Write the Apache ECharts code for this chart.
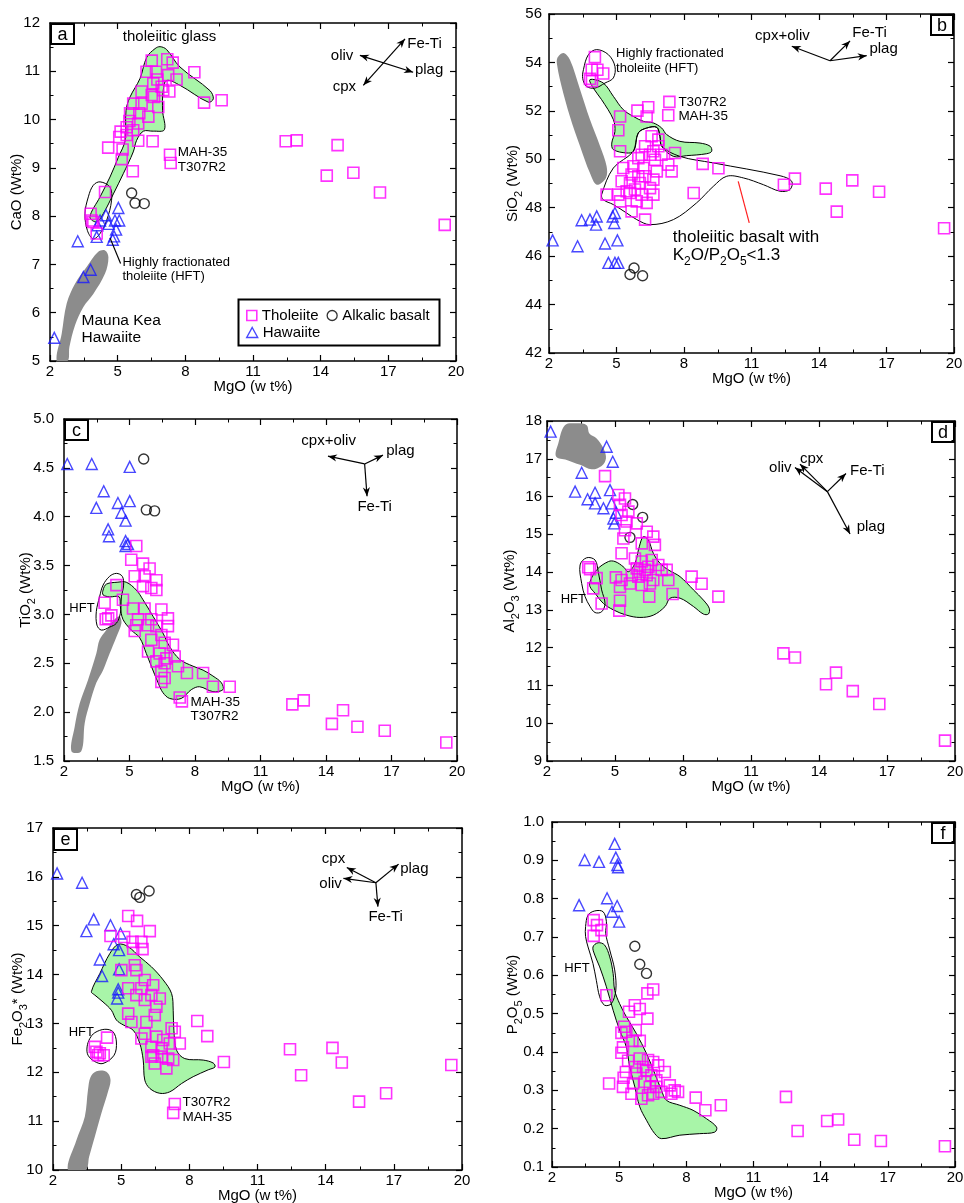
<!DOCTYPE html>
<html><head><meta charset="utf-8">
<script src="https://cdn.jsdelivr.net/npm/echarts@6/dist/echarts.min.js"></script>
<style>html,body{margin:0;padding:0;background:#fff}#c{width:964px;height:1203px}</style>
</head><body><div id="c"></div>
<script>
const FONT = '"Liberation Sans", Arial, Helvetica, sans-serif';
const MAG = '#ff00ff', BLUE = '#1a1aff', GREEN = '#a8f5a8', GRAY = '#8c8c8c';

// ---------- tick labels ----------
const mgoTicks = [2,5,8,11,14,17,20];
const aYTicks = [5,6,7,8,9,10,11,12];
const bYTicks = [42,44,46,48,50,52,54,56];
const cYTicks = [1.5,2.0,2.5,3.0,3.5,4.0,4.5,5.0];
const dYTicks = [9,10,11,12,13,14,15,16,17,18];
const eYTicks = [10,11,12,13,14,15,16,17];
const fYTicks = [0.1,0.2,0.3,0.4,0.5,0.6,0.7,0.8,0.9,1.0];

// ---------- panel a : CaO ----------
const aThol = [[19.5,7.82],[16.63,8.49],[15.45,8.9],[14.27,8.84],[14.75,9.47],[12.45,9.55],[12.94,9.57],[9.61,10.4],[8.83,10.35],[8.4,10.98],[7.32,9.27],[7.35,9.1],
[6.51,11.22],[7.2,11.25],[7.44,11.18],[6.28,10.99],[6.7,10.99],[7.24,10.92],[7.61,10.83],[6.76,10.83],[6.58,10.75],[6.95,10.68],[7.29,10.58],[6.06,10.58],[6.51,10.51],[7.02,10.61],[5.69,10.33],[6.06,10.33],[6.61,10.47],[6.8,10.26],[5.55,10.13],[5.96,10.13],[6.36,10.06],[5.91,9.92],[5.4,9.84],[5.13,9.75],[5.4,9.68],[5.07,9.64],[5.91,9.56],[6.55,9.55],[4.58,9.42],[5.22,9.38],[5.18,9.18],[5.67,8.93],[4.44,8.5],[5.52,9.97],[5.69,9.78],
[3.8,8.05],[3.85,7.91],[4.07,7.64],[3.92,7.88]];
const aHaw = [[2.19,5.48],[3.23,7.48],[3.48,6.74],[3.8,6.89],[4.07,7.57],[4.1,7.81],[4.48,8.02],[4.6,7.84],[4.78,7.51],[4.84,7.58],[4.93,7.72],[4.88,7.91],[5.07,7.91],[5.03,8.17],[4.22,7.91]];
const aAlk = [[5.62,8.48],[5.77,8.27],[6.18,8.26]];
const aGreen = [[3.77,7.98],[4.22,8.4],[4.66,8.81],[5.03,9.22],[5.33,9.57],[5.37,10.19],[5.55,10.47],[5.99,10.85],[6.29,11.29],[6.66,11.47],[6.88,11.51],[7.17,11.45],[7.76,11.09],[9.09,10.6],[9.24,10.43],[9.02,10.36],[7.76,10.71],[7.17,10.81],[7.02,10.6],[6.99,10.19],[7.07,9.79],[6.58,9.76],[6.14,9.76],[5.84,9.57],[5.69,9.33],[5.25,8.88],[4.81,8.46],[4.36,8.05],[4.07,7.88]];
const aHft = [[4.22,8.71],[4.66,8.6],[4.73,8.33],[4.51,7.91],[4.22,7.64],[3.92,7.53],[3.66,7.7],[3.55,8.05],[3.7,8.4],[3.92,8.64]];
const aGray = [[2.3,5.0],[2.52,5.57],[2.74,6.19],[3.11,6.6],[3.63,6.95],[4.14,7.26],[4.44,7.29],[4.59,7.15],[4.44,6.81],[3.92,6.39],[3.48,6.12],[3.11,5.74],[2.86,5.29],[2.78,5.0]];

// ---------- panel b : SiO2 ----------
const bThol = [[19.56,47.15],[16.67,48.66],[15.48,49.13],[14.79,47.84],[14.3,48.79],[12.93,49.2],[12.44,48.95],[9.53,49.63],[8.83,49.81],[8.43,48.61],[7.35,52.37],[7.3,51.82],
[4.04,54.22],[3.9,53.7],[4.15,53.7],[4.41,53.54],[3.82,53.32],[3.91,53.22],
[5.16,51.77],[5.08,51.2],[5.93,52.01],[6.41,52.15],[6.34,51.77],[5.16,50.33],[6.56,50.95],[6.86,50.54],[7.6,50.26],[6.49,50.19],[7.0,50.19],[6.12,50.19],[6.71,49.98],[7.3,49.78],[6.19,49.64],[5.75,49.71],[5.3,49.64],[5.67,49.37],[6.27,49.3],[6.79,49.5],[7.45,49.5],[5.23,49.09],[5.6,49.02],[6.04,49.02],[6.64,49.16],[4.56,48.54],[5.08,48.54],[5.6,48.61],[6.12,48.54],[6.64,48.54],[5.16,48.26],[5.9,48.26],[6.34,48.2],[5.67,47.85],[6.27,47.51],[5.45,48.68],[5.97,50.05],[6.27,50.54],[6.64,50.33],[6.86,50.81],[5.82,48.75],[6.49,48.81],[5.97,49.3]];
const bHaw = [[2.16,46.65],[3.27,46.41],[3.45,47.48],[3.82,47.51],[4.12,47.64],[4.09,47.3],[4.49,46.52],[4.64,45.72],[4.83,47.64],[4.93,47.78],[4.9,47.37],[5.04,46.65],[4.93,45.72],[5.08,45.72]];
const bAlk = [[5.78,45.51],[5.6,45.24],[6.16,45.19]];
const bGreen = [[3.82,53.29],[4.41,53.15],[4.86,52.6],[5.3,52.05],[5.75,51.77],[6.19,51.57],[6.64,51.5],[7.01,51.29],[7.23,51.02],[7.82,50.74],[8.71,50.67],[9.16,50.54],[9.23,50.33],[9.01,50.23],[8.12,50.15],[7.53,50.12],[7.01,50.54],[6.93,50.95],[6.79,51.32],[6.34,51.29],[5.97,51.09],[5.75,50.33],[5.45,50.26],[4.86,50.4],[4.79,50.67],[4.93,51.15],[4.86,51.64],[4.34,52.46],[3.97,52.94]];
const bBasalt = [[4.34,48.54],[4.86,49.64],[5.75,50.33],[5.97,51.09],[6.34,51.29],[6.79,51.32],[6.93,50.95],[7.01,50.54],[7.82,50.12],[9.3,49.85],[12.27,49.32],[12.79,49.09],[12.71,48.75],[12.27,48.68],[11.53,48.95],[10.64,49.23],[9.9,49.3],[9.3,48.88],[8.56,48.2],[7.53,47.51],[6.49,47.3],[5.9,47.51],[5.45,47.78],[4.86,48.13],[4.41,48.33]];
const bHft = [[3.53,53.7],[3.75,54.32],[4.12,54.53],[4.64,54.32],[4.93,53.84],[4.86,53.36],[4.49,53.15],[4.04,52.94],[3.67,53.01],[3.5,53.33]];
const bGray = [[2.37,54.18],[2.64,54.39],[2.93,54.11],[3.38,52.88],[3.82,51.64],[4.27,50.54],[4.56,49.71],[4.53,49.23],[4.12,48.95],[3.82,49.43],[3.38,50.54],[2.93,51.77],[2.56,53.01],[2.37,53.84]];

// ---------- panel c : TiO2 ----------
const cThol = [[19.51,1.69],[16.69,1.81],[15.44,1.85],[14.78,2.02],[14.27,1.88],[12.98,2.12],[12.46,2.08],[9.59,2.26],[8.82,2.26],[8.37,2.4],[7.3,2.15],[7.4,2.11],[7.63,2.4],[5.31,3.7],[5.08,3.56],
[3.86,3.12],[4.02,2.96],[4.17,2.99],[3.91,2.95],[4.4,3.3],
[5.62,3.52],[5.92,3.47],[5.24,3.39],[5.69,3.39],[6.23,3.35],[5.62,3.29],[6.0,3.27],[6.23,3.25],[4.7,3.15],[5.16,3.06],[5.69,3.06],[6.46,3.05],[6.76,2.96],[5.31,2.89],[5.85,2.89],[6.23,2.88],[5.24,2.83],[6.46,2.79],[6.0,2.74],[6.61,2.71],[6.99,2.69],[5.85,2.62],[6.38,2.6],[6.69,2.55],[7.07,2.57],[6.23,2.52],[6.61,2.5],[7.22,2.47],[6.46,2.42],[6.61,2.35],[6.46,2.31],[5.39,2.95],[6.0,2.95],[6.76,2.88]];
const cHaw = [[2.15,4.54],[3.27,4.54],[5.01,4.51],[3.82,4.26],[3.48,4.09],[4.47,4.14],[5.01,4.16],[4.63,4.04],[4.82,3.96],[4.02,3.87],[4.06,3.8],[4.82,3.75],[4.82,3.7],[4.93,3.72]];
const cAlk = [[5.65,4.59],[5.77,4.07],[6.15,4.06]];
const cGreen = [[3.79,3.25],[3.94,3.31],[4.47,3.33],[4.85,3.33],[5.31,3.25],[5.62,3.15],[6.08,2.98],[6.53,2.81],[6.84,2.67],[7.3,2.54],[7.91,2.47],[8.37,2.43],[8.82,2.37],[9.21,2.3],[9.28,2.23],[8.82,2.21],[8.21,2.26],[7.83,2.23],[7.37,2.14],[6.84,2.14],[6.53,2.2],[6.31,2.3],[6.0,2.47],[5.77,2.6],[5.47,2.76],[5.08,2.84],[4.7,2.95],[4.58,3.08],[4.52,3.18],[4.09,3.18],[3.79,3.2]];
const cHft = [[3.63,3.18],[3.79,3.3],[4.09,3.39],[4.4,3.42],[4.67,3.39],[4.73,3.3],[4.63,3.18],[4.58,3.01],[4.4,2.91],[4.09,2.87],[3.71,2.84],[3.51,2.89],[3.48,3.03]];
const cGray = [[2.34,1.6],[2.49,1.85],[2.72,2.09],[3.1,2.33],[3.48,2.6],[3.63,2.74],[3.94,2.84],[4.32,2.95],[4.55,2.98],[4.63,2.91],[4.4,2.77],[4.09,2.6],[3.79,2.43],[3.48,2.3],[3.18,2.09],[2.95,1.89],[2.79,1.6]];

// ---------- panel d : Al2O3 ----------
const dThol = [[19.56,9.54],[16.66,10.51],[15.49,10.85],[14.75,11.34],[14.31,11.03],[12.94,11.74],[12.43,11.85],[9.56,13.35],[8.82,13.69],[8.38,13.88],[7.54,13.42],[7.35,13.79],[7.28,14.06],[6.51,13.35],
[3.82,14.13],[3.9,14.08],[4.19,13.84],[4.04,13.57],[4.41,13.17],[4.56,16.54],
[5.19,12.98],[5.22,13.24],[5.29,13.79],[5.04,13.86],[5.29,14.5],[5.66,13.7],
[5.15,16.04],[5.44,15.95],[5.22,15.78],[5.59,15.6],[5.29,15.51],[5.51,15.34],[5.96,15.29],[5.44,15.11],[6.4,15.07],[6.69,14.94],[5.37,14.89],[6.18,14.76],[6.76,14.72],[5.88,14.36],[6.18,14.28],[6.62,14.32],[7.06,14.06],[5.96,14.1],[6.32,14.06],[5.74,13.92],[6.03,13.88],[6.4,13.92],[6.69,13.79],[6.18,13.66],[5.22,13.61],[6.54,13.7],[6.1,14.01],[6.47,14.14],[6.91,14.19]];
const dHaw = [[2.16,17.72],[4.63,17.32],[4.9,16.92],[3.53,16.63],[3.24,16.13],[4.12,16.1],[3.79,15.93],[4.12,15.82],[4.49,15.69],[4.78,16.17],[4.85,15.82],[5.04,15.57],[4.93,15.42],[4.97,15.29]];
const dAlk = [[5.78,15.79],[6.22,15.45],[5.66,14.92]];
const dGreen = [[3.9,13.75],[4.19,14.06],[4.71,14.28],[5.0,14.28],[5.37,14.14],[5.59,14.01],[5.88,14.23],[6.07,14.67],[6.25,14.94],[6.47,14.85],[6.69,14.5],[6.99,14.23],[7.35,14.06],[7.87,13.88],[8.46,13.53],[8.9,13.26],[9.16,13.04],[9.12,12.89],[8.9,12.89],[8.46,13.09],[7.87,13.31],[7.43,13.31],[7.21,13.09],[6.69,12.86],[6.1,12.8],[5.51,12.86],[4.93,13.0],[4.49,13.17],[4.12,13.44],[3.9,13.61]];
const dHft = [[3.46,14.19],[3.75,14.38],[4.12,14.32],[4.26,14.01],[4.41,13.53],[4.56,13.17],[4.41,12.95],[4.12,12.93],[3.9,13.09],[3.68,13.35],[3.53,13.7]];
const dGray = [[2.4,17.06],[2.5,17.41],[2.79,17.89],[3.31,17.94],[3.75,17.89],[3.87,17.67],[4.19,17.54],[4.49,17.28],[4.6,17.01],[4.41,16.81],[3.97,16.72],[3.46,16.84],[2.87,16.97]];

// ---------- panel e : Fe2O3* ----------
const eThol = [[19.53,12.15],[16.66,11.57],[15.47,11.4],[14.71,12.2],[14.3,12.5],[12.92,11.94],[12.43,12.47],[9.52,12.21],[8.79,12.74],[8.35,13.05],[7.36,11.35],[7.29,11.17],
[4.38,12.71],[3.84,12.52],[3.91,12.42],[4.06,12.39],[4.23,12.35],[3.98,12.35],
[5.31,15.2],[5.7,15.1],[6.26,14.89],[4.53,14.79],[5.13,14.77],[5.5,14.67],[5.89,14.67],[5.53,14.53],[5.94,14.52],
[5.6,14.19],[5.67,14.09],[5.01,14.09],[6.04,13.89],[6.41,13.78],[5.31,13.72],[5.89,13.72],[5.67,13.58],[6.33,13.58],[6.7,13.51],[6.04,13.48],[6.55,13.34],[5.31,13.2],[6.48,13.17],[5.45,13.03],[6.11,13.03],[7.22,12.9],[7.36,12.83],[6.04,12.79],[6.55,12.73],[6.85,12.66],[5.89,12.69],[7.14,12.59],[7.58,12.59],[6.33,12.52],[6.78,12.49],[6.41,12.35],[6.78,12.32],[7.07,12.28],[7.29,12.25],[6.48,12.18],[6.99,12.08],[6.33,12.32]];
const eHaw = [[2.18,16.07],[3.28,15.88],[3.79,15.13],[3.47,14.89],[4.53,15.01],[4.97,14.84],[4.67,14.62],[4.91,14.5],[4.06,14.31],[4.16,13.97],[4.91,14.11],[4.87,13.7],[4.87,13.63],[4.82,13.51]];
const eAlk = [[5.67,15.64],[5.82,15.58],[6.23,15.71]];
const eGreen = [[3.69,13.65],[4.06,14.02],[4.5,14.43],[4.87,14.62],[5.31,14.57],[5.82,14.36],[6.33,14.16],[6.85,13.89],[7.22,13.61],[7.29,13.27],[7.32,12.86],[7.44,12.45],[7.8,12.28],[8.61,12.25],[9.05,12.19],[9.13,12.11],[8.83,12.05],[8.17,11.91],[7.66,11.77],[7.14,11.6],[6.7,11.57],[6.26,11.67],[6.04,11.84],[5.97,12.25],[5.82,12.59],[5.53,12.86],[5.09,12.97],[4.79,13.07],[4.57,13.27],[4.2,13.44],[3.84,13.58]];
const eHft = [[3.5,12.52],[3.62,12.69],[3.84,12.81],[4.28,12.88],[4.64,12.83],[4.79,12.62],[4.69,12.35],[4.2,12.18],[3.84,12.22],[3.54,12.35]];
const eGray = [[2.66,10.0],[3.03,10.61],[3.4,11.09],[3.54,11.64],[3.65,11.9],[3.91,12.02],[4.35,12.01],[4.53,11.85],[4.42,11.6],[4.13,11.16],[3.84,10.68],[3.59,10.27],[3.44,10.0]];

// ---------- panel f : P2O5 ----------
const fThol = [[19.55,0.154],[16.69,0.168],[15.5,0.171],[14.78,0.224],[14.29,0.22],[12.97,0.194],[12.45,0.283],[9.54,0.261],[8.85,0.248],[8.42,0.281],[4.55,0.318],
[3.86,0.744],[4.01,0.731],[4.21,0.718],[3.86,0.703],[4.43,0.548],
[6.52,0.563],[6.26,0.553],[5.7,0.522],[5.92,0.512],[5.44,0.505],[6.26,0.487],[5.74,0.457],[5.22,0.466],[5.1,0.45],[5.32,0.453],[5.92,0.429],[5.59,0.429],[5.17,0.412],[5.1,0.398],[5.4,0.377],
[5.92,0.383],[6.29,0.379],[5.7,0.361],[6.07,0.361],[6.52,0.374],[6.74,0.365],[7.04,0.348],[5.77,0.344],[6.22,0.352],[6.44,0.339],[6.66,0.326],[5.17,0.309],[5.62,0.318],[6.14,0.322],[6.37,0.309],[6.66,0.309],[7.26,0.313],[7.48,0.3],[6.89,0.296],[6.52,0.291],[5.55,0.291],[5.99,0.278],[6.29,0.287],[7.33,0.291],[7.63,0.296],[5.3,0.348],[5.2,0.333]];
const fHaw = [[3.21,0.783],[3.46,0.901],[4.1,0.896],[4.46,0.801],[4.68,0.766],[4.8,0.943],[4.85,0.907],[4.92,0.888],[4.95,0.882],[4.91,0.781],[5.0,0.74]];
const fAlk = [[5.7,0.676],[5.92,0.629],[6.22,0.605]];
const fGreen = [[3.83,0.674],[4.06,0.685],[4.35,0.679],[4.58,0.648],[4.73,0.605],[4.8,0.561],[5.02,0.526],[5.32,0.492],[5.77,0.448],[6.22,0.396],[6.59,0.344],[6.89,0.3],[7.11,0.274],[7.71,0.261],[8.3,0.248],[8.9,0.226],[9.35,0.204],[9.27,0.191],[8.6,0.187],[7.71,0.183],[6.89,0.174],[6.59,0.187],[6.22,0.222],[5.92,0.257],[5.7,0.309],[5.47,0.361],[5.32,0.413],[5.02,0.457],[4.73,0.509],[4.43,0.57],[4.13,0.622],[3.91,0.653]];
const fHft = [[3.5,0.727],[3.61,0.757],[3.91,0.768],[4.28,0.766],[4.43,0.74],[4.4,0.709],[4.58,0.666],[4.8,0.614],[4.85,0.561],[4.65,0.526],[4.35,0.522],[4.13,0.544],[3.98,0.587],[3.83,0.631],[3.61,0.674],[3.5,0.701]];

// ---------- vector diagrams [x1,y1,x2,y2,heads] ----------
const aArrows = [[15.74,11.33,18.1,10.98,2],[15.89,10.71,17.74,11.67,2],[4.66,7.55,5.13,7.02,0]];
const bArrows = [[14.49,54.07,12.79,54.67,1],[14.49,54.07,15.38,54.89,1],[14.49,54.07,16.12,54.28,1]];
const bRed = [[10.41,49.09,10.9,47.37,0]];
const cArrows = [[15.77,4.54,14.09,4.62,1],[15.77,4.54,16.61,4.63,1],[15.77,4.54,15.88,4.21,1]];
const dArrows = [[14.37,16.13,12.94,16.77,1],[14.37,16.13,13.16,16.86,1],[14.37,16.13,15.19,16.61,1],[14.37,16.13,15.37,15.01,1]];
const eArrows = [[16.21,15.88,14.93,16.19,1],[16.21,15.88,14.78,15.97,1],[16.21,15.88,17.21,16.26,1],[16.21,15.88,16.3,15.39,1]];

// ---------- annotations [x, y, text, align, size] ----------
const aLabels = [[7.3,11.71,'tholeiitic glass','center',15],[15.45,11.31,'oliv','right',15],[17.84,11.57,'Fe-Ti','left',15],[18.18,11.02,'plag','left',15],[15.57,10.67,'cpx','right',15],
[7.66,9.33,'MAH-35','left',13.5],[7.66,9.02,'T307R2','left',13.5],[5.21,7.05,'Highly fractionated','left',13],[5.21,6.75,'tholeiite (HFT)','left',13],
[3.4,5.83,'Mauna Kea','left',15.5],[3.4,5.48,'Hawaiite','left',15.5]];
const bLabels = [[4.98,54.39,'Highly fractionated','left',13],[4.98,53.77,'tholeiite (HFT)','left',13],[7.75,52.37,'T307R2','left',13.5],[7.75,51.77,'MAH-35','left',13.5],
[7.5,46.79,'tholeiitic basalt with','left',17],[7.5,46.02,'K{s|2}O/P{s|2}O{s|5}<1.3','left',17],
[11.16,55.11,'cpx+oliv','left',15],[15.48,55.24,'Fe-Ti','left',15],[16.24,54.57,'plag','left',15]];
const cLabels = [[3.4,3.06,'HFT','right',13],[7.79,2.1,'MAH-35','left',13.5],[7.79,1.96,'T307R2','left',13.5],[12.87,4.78,'cpx+oliv','left',15],[16.76,4.67,'plag','left',15],[15.44,4.1,'Fe-Ti','left',15]];
const dLabels = [[3.72,13.28,'HFT','right',13],[12.79,16.75,'oliv','right',15],[13.16,17.01,'cpx','left',15],[15.37,16.68,'Fe-Ti','left',15],[15.66,15.19,'plag','left',15]];
const eLabels = [[3.8,12.82,'HFT','right',13],[7.7,11.38,'T307R2','left',13.5],[7.7,11.08,'MAH-35','left',13.5],[14.86,16.37,'cpx','right',15],[14.71,15.85,'oliv','right',15],[17.28,16.16,'plag','left',15],[15.88,15.19,'Fe-Ti','left',15]];
const fLabels = [[3.68,0.618,'HFT','right',13]];

// ---------- layout ----------
const panels = [
 {id:'a', grid:[50,23,406,338], yTicks:aYTicks, yName:'CaO (Wt%)', yGap:22, yMargin:10, dec:0, thol:aThol, alk:aAlk, haw:aHaw, green:aGreen, outlines:[aHft], gray:aGray, arrows:aArrows, red:null, labels:aLabels, box:[51,24,23,20]},
 {id:'b', grid:[549,14,405,339], yTicks:bYTicks, yName:'SiO{s|2} (Wt%)', yGap:25, yMargin:7, dec:0, thol:bThol, alk:bAlk, haw:bHaw, green:bGreen, outlines:[bHft,bBasalt], gray:bGray, arrows:bArrows, red:bRed, labels:bLabels, box:[931,15,22,20]},
 {id:'c', grid:[64,419,393,342], yTicks:cYTicks, yName:'TiO{s|2} (Wt%)', yGap:27, yMargin:10, dec:1, thol:cThol, alk:cAlk, haw:cHaw, green:cGreen, outlines:[cHft], gray:cGray, arrows:cArrows, red:null, labels:cLabels, box:[65,420,23,20]},
 {id:'d', grid:[547,421,408,340], yTicks:dYTicks, yName:'Al{s|2}O{s|3} (Wt%)', yGap:26, yMargin:5, dec:0, thol:dThol, alk:dAlk, haw:dHaw, green:dGreen, outlines:[dHft], gray:dGray, arrows:dArrows, red:null, labels:dLabels, box:[932,422,22,20]},
 {id:'e', grid:[53,828,409,342], yTicks:eYTicks, yName:'Fe{s|2}O{s|3}* (Wt%)', yGap:24, yMargin:10, dec:0, thol:eThol, alk:eAlk, haw:eHaw, green:eGreen, outlines:[eHft], gray:eGray, arrows:eArrows, red:null, labels:eLabels, box:[54,829,23,21]},
 {id:'f', grid:[552,822,403,345], yTicks:fYTicks, yName:'P{s|2}O{s|5} (Wt%)', yGap:28, yMargin:8, dec:1, thol:fThol, alk:fAlk, haw:fHaw, green:fGreen, outlines:[fHft], gray:null, arrows:[], red:null, labels:fLabels, box:[932,823,22,20]}
];

const subRich = (size) => ({ s:{fontSize:Math.round(size*0.7), fontFamily:FONT, color:'#000', fill:'#000', verticalAlign:'bottom', lineHeight:Math.round(size*0.8)} });

function axisBase(ticks){
  const min = ticks[0], max = ticks[ticks.length-1];
  const interval = Math.round((ticks[1]-ticks[0])*1e6)/1e6;
  return {type:'value', min, max, interval, nameMoveOverlap:false,
    axisLine:{show:true, onZero:false, lineStyle:{color:'#000', width:1.5}},
    axisTick:{show:true, inside:true, length:6, lineStyle:{color:'#000', width:1.2}},
    minorTick:{show:true, splitNumber:2, length:3.5, lineStyle:{color:'#000', width:1}},
    splitLine:{show:false}, minorSplitLine:{show:false}};
}

const grids=[], xAxes=[], yAxes=[], series=[], graphics=[];
panels.forEach((p, i) => {
  grids.push({left:p.grid[0], top:p.grid[1], width:p.grid[2], height:p.grid[3], containLabel:false, outerBoundsMode:'none'});
  xAxes.push(Object.assign(axisBase(mgoTicks), {gridIndex:i, position:'bottom',
    axisLabel:{show:true, fontSize:15, fontFamily:FONT, color:'#000', margin:3},
    name:'MgO (w t%)', nameLocation:'middle', nameGap:18, nameTextStyle:{fontSize:15, fontFamily:FONT, color:'#000'}}));
  xAxes.push(Object.assign(axisBase(mgoTicks), {gridIndex:i, position:'top', axisLabel:{show:false}}));
  yAxes.push(Object.assign(axisBase(p.yTicks), {gridIndex:i, position:'left',
    axisLabel:{show:true, fontSize:15, fontFamily:FONT, color:'#000', margin:p.yMargin, formatter:v => Number(v).toFixed(p.dec)},
    name:p.yName, nameLocation:'middle', nameGap:p.yGap, nameRotate:90,
    nameTextStyle:{fontSize:15, fontFamily:FONT, color:'#000', lineHeight:22, rich:subRich(15)}}));
  yAxes.push(Object.assign(axisBase(p.yTicks), {gridIndex:i, position:'right', axisLabel:{show:false}}));
  const xi = 2*i, yi = 2*i;

  const poly = (pts, fill, stroke, z) => ({type:'custom', xAxisIndex:xi, yAxisIndex:yi, clip:true, silent:true, z, data:pts,
    renderItem(params, api){
      if (params.dataIndex !== 0) return null;
      return {type:'polygon', shape:{points:pts.map(q => api.coord(q)), smooth:0.35},
        style:{fill:fill || 'none', stroke:stroke || 'none', lineWidth:1}};
    }});
  if (p.gray) series.push(poly(p.gray, GRAY, null, 1));
  series.push(poly(p.green, GREEN, '#000', 2));
  p.outlines.forEach(o => series.push(poly(o, null, '#000', 3)));

  series.push({type:'scatter', name:'Hawaiite', xAxisIndex:xi, yAxisIndex:yi, data:p.haw, symbol:'triangle', symbolSize:11, silent:true, z:5,
    itemStyle:{color:'rgba(0,0,0,0)', borderColor:BLUE, borderWidth:1.4}});
  series.push({type:'scatter', name:'Alkalic basalt', xAxisIndex:xi, yAxisIndex:yi, data:p.alk, symbol:'circle', symbolSize:10, silent:true, z:5,
    itemStyle:{color:'rgba(0,0,0,0)', borderColor:'#000', borderWidth:1.4}});
  series.push({type:'scatter', name:'Tholeiite', xAxisIndex:xi, yAxisIndex:yi, data:p.thol, symbol:'rect', symbolSize:11, silent:true, z:5,
    itemStyle:{color:'rgba(0,0,0,0)', borderColor:MAG, borderWidth:1.6}});

  const arrowS = (arr, color) => ({type:'custom', xAxisIndex:xi, yAxisIndex:yi, silent:true, z:6, data:arr.map(a => [a[0],a[1],a[2],a[3]]),
    renderItem(params, api){
      const a = arr[params.dataIndex];
      const p1 = api.coord([a[0],a[1]]), p2 = api.coord([a[2],a[3]]);
      const kids = [{type:'line', shape:{x1:p1[0],y1:p1[1],x2:p2[0],y2:p2[1]}, style:{stroke:color, lineWidth:1.2}}];
      const head = (from, to) => {
        const dx = to[0]-from[0], dy = to[1]-from[1], L = Math.hypot(dx,dy) || 1, ux = dx/L, uy = dy/L;
        const len = 9, w = 3.6, bx = to[0]-ux*len, by = to[1]-uy*len;
        return {type:'polygon', shape:{points:[[to[0],to[1]],[bx-uy*w,by+ux*w],[to[0]-ux*len*0.7,to[1]-uy*len*0.7],[bx+uy*w,by-ux*w]]}, style:{fill:color}};
      };
      if (a[4] >= 1) kids.push(head(p1,p2));
      if (a[4] >= 2) kids.push(head(p2,p1));
      return {type:'group', children:kids};
    }});
  if (p.arrows.length) series.push(arrowS(p.arrows, '#000'));
  if (p.red) series.push(arrowS(p.red, '#ff2020'));

  series.push({type:'custom', xAxisIndex:xi, yAxisIndex:yi, silent:true, z:7, data:p.labels.map(l => [l[0],l[1]]),
    renderItem(params, api){
      const l = p.labels[params.dataIndex];
      const c = api.coord([l[0],l[1]]);
      return {type:'text', x:c[0], y:c[1], style:{text:l[2], fontSize:l[4], fontFamily:FONT, fill:'#000', align:l[3], verticalAlign:'middle',
        lineHeight:Math.round(l[4]*1.4), rich:subRich(l[4])}};
    }});

  graphics.push({type:'group', z:100, children:[
    {type:'rect', shape:{x:p.box[0], y:p.box[1], width:p.box[2], height:p.box[3]}, style:{fill:'#fff', stroke:'#000', lineWidth:2}},
    {type:'text', x:p.box[0]+p.box[2]/2, y:p.box[1]+p.box[3]/2+1, style:{text:p.id, fontSize:18, fontFamily:FONT, fill:'#000', align:'center', verticalAlign:'middle'}}
  ]});
});

// legend frame (panel a)
graphics.push({type:'rect', z:100, shape:{x:238.5, y:299.5, width:201, height:46}, style:{fill:'none', stroke:'#000', lineWidth:2}});

const legendText = {fontSize:15, fontFamily:FONT, color:'#000'};
const option = {
  animation:false,
  backgroundColor:'#fff',
  grid:grids, xAxis:xAxes, yAxis:yAxes, series,
  graphic:graphics,
  legend:[
    {data:[{name:'Tholeiite', icon:'rect', itemStyle:{color:'rgba(0,0,0,0)', borderColor:MAG, borderWidth:1.6}},
           {name:'Alkalic basalt', icon:'circle', itemStyle:{color:'rgba(0,0,0,0)', borderColor:'#000', borderWidth:1.3}}],
     left:246, top:308, padding:0, itemWidth:10, itemHeight:10, itemGap:8, selectedMode:false, textStyle:legendText, z:101},
    {data:[{name:'Hawaiite', icon:'triangle', itemStyle:{color:'rgba(0,0,0,0)', borderColor:BLUE, borderWidth:1.4}}],
     left:246, top:325, padding:0, itemWidth:11, itemHeight:10, itemGap:8, selectedMode:false, textStyle:legendText, z:101}
  ]
};
const chart = echarts.init(document.getElementById('c'), null, {renderer:'canvas'});
chart.setOption(option);
</script>
</body></html>
